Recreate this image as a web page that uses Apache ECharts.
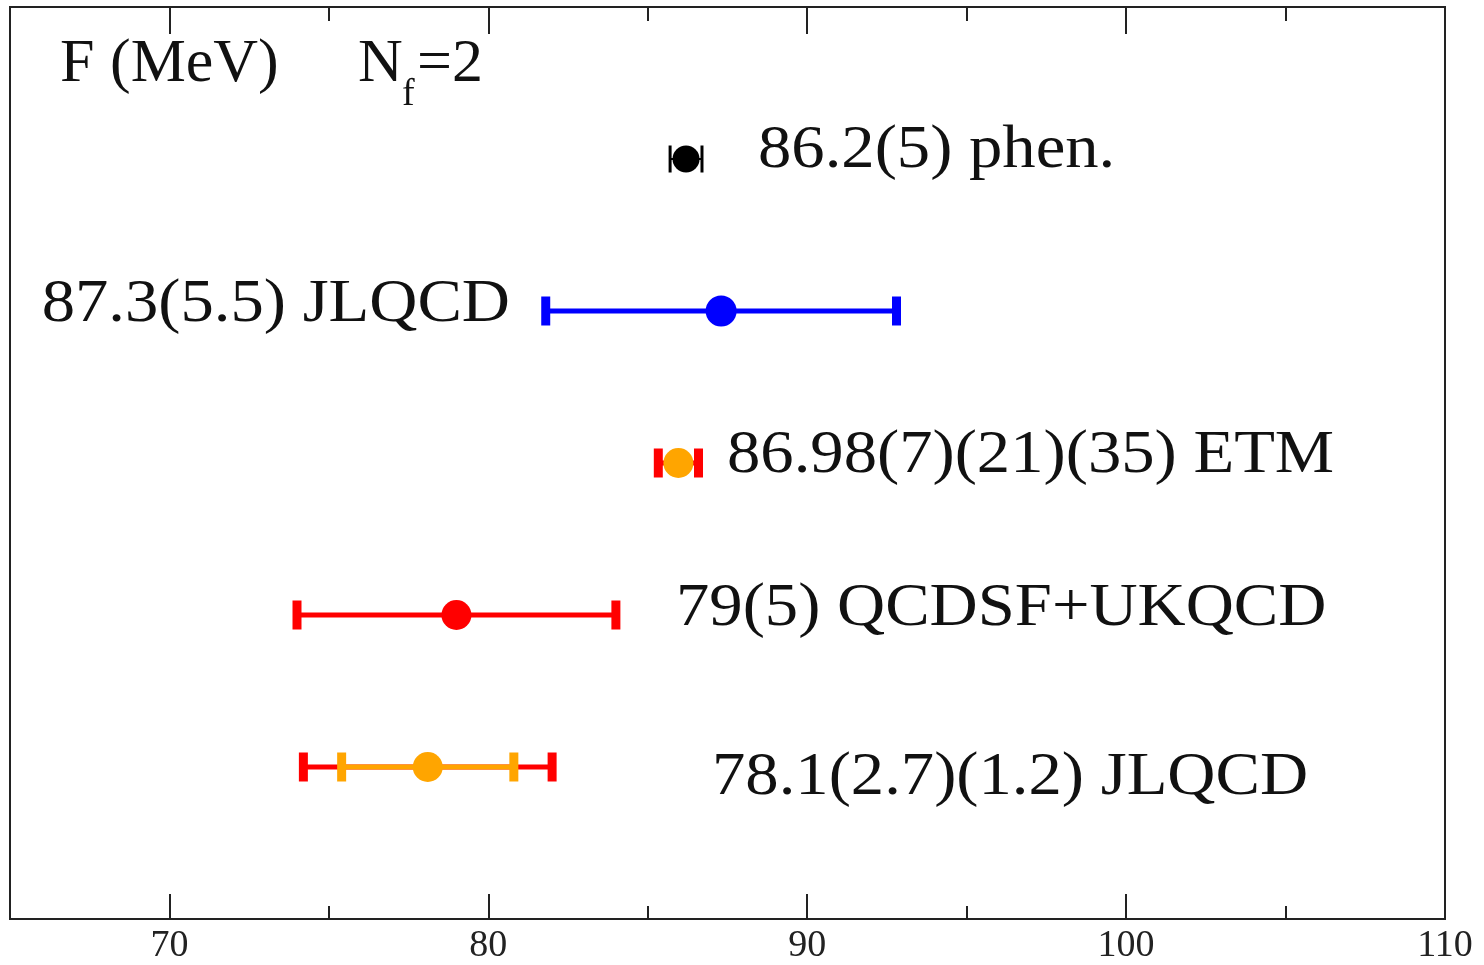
<!DOCTYPE html>
<html><head><meta charset="utf-8">
<script src="https://cdn.jsdelivr.net/npm/echarts@6/dist/echarts.min.js"></script>
<style>html,body{margin:0;padding:0;background:#fff}#c{width:1484px;height:965px}</style>
</head><body><div id="c"></div>
<script>
// ---- data ----
const rowLabels = ['86.2(5) phen.', '87.3(5.5) JLQCD', '86.98(7)(21)(35) ETM', '79(5) QCDSF+UKQCD', '78.1(2.7)(1.2) JLQCD'];
const rowY = [5, 4, 3, 2, 1];
const central = [86.2, 87.3, 85.96, 79.0, 78.1];
const errInner = [0.5, 5.5, 0, 5.0, 2.7];
const errOuter = [0, 0, 0.63, 0, 3.9];
const xMajorTicks = [70, 80, 90, 100];
const xMinorTicks = [75, 85, 95, 105];
const xTickLabels = [70, 80, 90, 100, 110];

// ---- styles ----
const pointColor = ['#000000', '#0000ff', '#ffa500', '#ff0000', '#ffa500'];
const innerColor = ['#000000', '#0000ff', '#ffa500', '#ff0000', '#ffa500'];
const outerColor = '#ff0000';
const thinBar = [true, false, false, false, false];
const pointSize = [27, 31, 30, 30, 30];
const FONT = '"Liberation Serif", "Times New Roman", serif';

const chart = echarts.init(document.getElementById('c'), null, {renderer: 'canvas'});

function barRenderer(colorFn) {
  return function (params, api) {
    const lo = api.value(0), hi = api.value(1), y = api.value(2);
    if (hi - lo <= 0) return null;
    const p1 = api.coord([lo, y]);
    const p2 = api.coord([hi, y]);
    const i = params.dataIndex;
    const color = colorFn(i);
    const thin = thinBar[i];
    const lw = thin ? 2 : 5;
    const capW = thin ? 3 : 9;
    const capH = thin ? 27 : 29;
    return {
      type: 'group',
      children: [
        {type: 'rect', shape: {x: p1[0], y: p1[1] - lw / 2, width: p2[0] - p1[0], height: lw}, style: {fill: color}},
        {type: 'rect', shape: {x: p1[0] - capW / 2, y: p1[1] - capH / 2, width: capW, height: capH}, style: {fill: color}},
        {type: 'rect', shape: {x: p2[0] - capW / 2, y: p2[1] - capH / 2, width: capW, height: capH}, style: {fill: color}}
      ]
    };
  };
}

const axisBase = {
  type: 'value', min: 65, max: 110, interval: 5,
  axisLine: {show: false}, splitLine: {show: false}
};
const tickStyle = {color: '#222', width: 2};

const xAxes = [
  Object.assign({}, axisBase, {
    position: 'bottom',
    axisTick: {show: true, inside: true, length: 25, customValues: xMajorTicks, lineStyle: tickStyle},
    axisLabel: {show: true, customValues: xTickLabels, margin: 8, fontFamily: FONT, fontSize: 38, color: '#222'}
  }),
  Object.assign({}, axisBase, {
    position: 'bottom',
    axisTick: {show: true, inside: true, length: 13, customValues: xMinorTicks, lineStyle: tickStyle},
    axisLabel: {show: false}
  }),
  Object.assign({}, axisBase, {
    position: 'top',
    axisTick: {show: true, inside: true, length: 27, customValues: xMajorTicks, lineStyle: tickStyle},
    axisLabel: {show: false}
  }),
  Object.assign({}, axisBase, {
    position: 'top',
    axisTick: {show: true, inside: true, length: 14, customValues: xMinorTicks, lineStyle: tickStyle},
    axisLabel: {show: false}
  })
];

const innerData = rowY.map((y, i) => [central[i] - errInner[i], central[i] + errInner[i], y]);
const outerData = rowY.map((y, i) => [central[i] - errOuter[i], central[i] + errOuter[i], y]);
const pointData = rowY.map((y, i) => [central[i], y]);

const LABEL_SCALE = 1.075;
const labelPos = [
  {x: 758, y: 151, align: 'left'},
  {x: 510, y: 305, align: 'right'},
  {x: 727, y: 456, align: 'left'},
  {x: 676, y: 609, align: 'left'},
  {x: 712, y: 778, align: 'left'}
];

const graphics = rowLabels.map((t, i) => ({
  type: 'text',
  x: labelPos[i].x, y: labelPos[i].y,
  scaleX: LABEL_SCALE,
  style: {text: t, font: '62px ' + FONT, fill: '#111', align: labelPos[i].align, verticalAlign: 'middle'},
  z: 10
}));
graphics.push(
  {type: 'text', x: 60, y: 65, style: {text: 'F (MeV)', font: '62px ' + FONT, fill: '#111', align: 'left', verticalAlign: 'middle'}},
  {type: 'text', x: 358, y: 65, style: {text: 'N', font: '62px ' + FONT, fill: '#111', align: 'left', verticalAlign: 'middle'}},
  {type: 'text', x: 402, y: 95, style: {text: 'f', font: '38px ' + FONT, fill: '#111', align: 'left', verticalAlign: 'middle'}},
  {type: 'text', x: 417, y: 65, style: {text: '=2', font: '62px ' + FONT, fill: '#111', align: 'left', verticalAlign: 'middle'}}
);

chart.setOption({
  animation: false,
  backgroundColor: '#fff',
  grid: {left: 10, right: 39, top: 7, bottom: 45, show: true, borderColor: '#222', borderWidth: 2, backgroundColor: 'transparent'},
  xAxis: xAxes,
  yAxis: {type: 'value', min: 0, max: 6, show: false},
  series: [
    {type: 'custom', xAxisIndex: 0, renderItem: barRenderer(() => outerColor), encode: {x: [0, 1], y: 2}, data: outerData, z: 2},
    {type: 'custom', xAxisIndex: 0, renderItem: barRenderer(i => innerColor[i]), encode: {x: [0, 1], y: 2}, data: innerData, z: 3},
    {type: 'scatter', xAxisIndex: 0, data: pointData, z: 4,
      symbolSize: (v, p) => pointSize[p.dataIndex],
      itemStyle: {color: p => pointColor[p.dataIndex], opacity: 1}}
  ],
  graphic: graphics
});
</script>
</body></html>
